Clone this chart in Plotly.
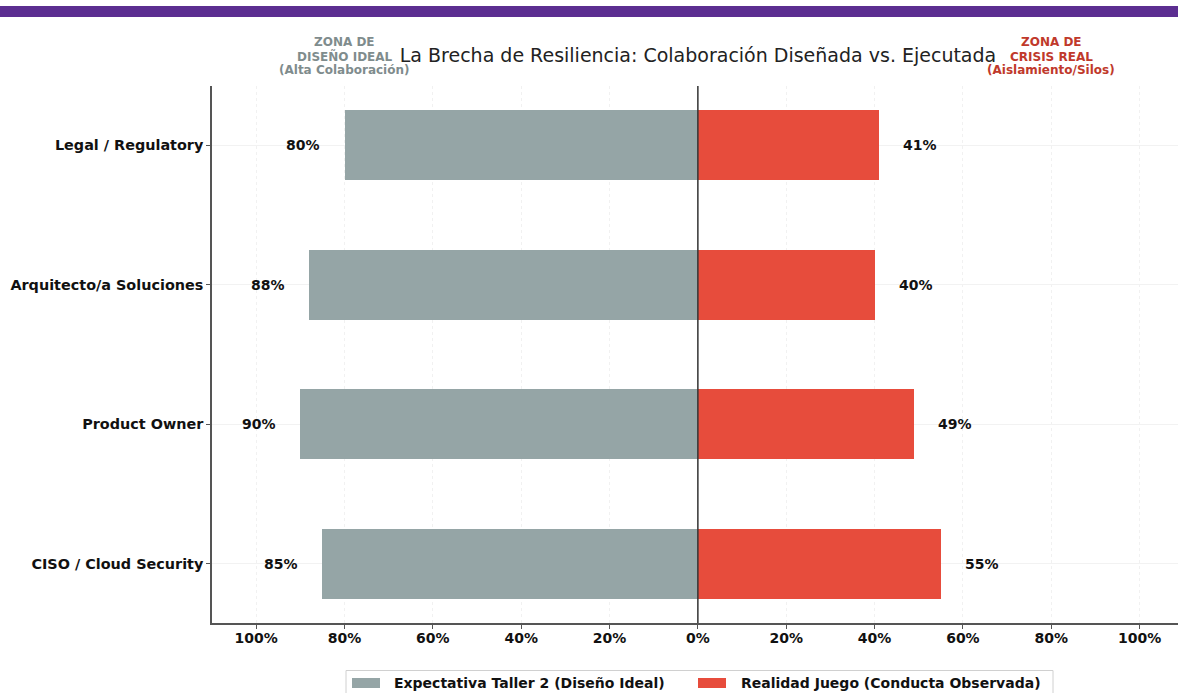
import plotly.graph_objects as go

# Roles (bottom to top) and collaboration percentages
roles = ["CISO / Cloud Security", "Product Owner", "Arquitecto/a Soluciones", "Legal / Regulatory"]
expectativa = [85, 90, 88, 80]   # Expectativa Taller 2 (Diseño Ideal)
realidad = [55, 49, 40, 41]      # Realidad Juego (Conducta Observada)

tick_values = [-100, -80, -60, -40, -20, 0, 20, 40, 60, 80, 100]
tick_labels = ["100%", "80%", "60%", "40%", "20%", "0%", "20%", "40%", "60%", "80%", "100%"]

series_names = ["Expectativa Taller 2 (Diseño Ideal)", "Realidad Juego (Conducta Observada)"]

GRAY = "#95a5a6"
RED = "#e74c3c"
FONT = "DejaVu Sans"

W, H = 1178, 693
ML, MR, MT, MB = 212, 0, 86, 70
plot_h = H - MT - MB
plot_w = W - ML - MR


def px_x(px):
    """Horizontal pixel position -> paper coordinate."""
    return (px - ML) / plot_w


def px_y(py):
    """Vertical pixel position (from top) -> paper coordinate."""
    return (H - MB - py) / plot_h


ypos = list(range(len(roles)))

fig = go.Figure()
fig.add_trace(go.Bar(
    y=ypos, x=[-v for v in expectativa], orientation="h", width=0.5,
    marker=dict(color=GRAY, line=dict(width=0)),
    name=series_names[0], hoverinfo="skip",
))
fig.add_trace(go.Bar(
    y=ypos, x=realidad, orientation="h", width=0.5,
    marker=dict(color=RED, line=dict(width=0)),
    name=series_names[1], hoverinfo="skip",
))

label_font = dict(family=FONT, size=14, color="#111")
annotations = []
for i, (e, r) in enumerate(zip(expectativa, realidad)):
    annotations.append(dict(x=-(e + 5), y=i, xref="x", yref="y", text=f"<b>{e}%</b>",
                            showarrow=False, xanchor="right", yanchor="middle", font=label_font))
    annotations.append(dict(x=r + 5, y=i, xref="x", yref="y", text=f"<b>{r}%</b>",
                            showarrow=False, xanchor="left", yanchor="middle", font=label_font))

# Zone headers above the plot, one line at a time
headers = [
    (-80, "#7f8c8d", ["ZONA DE", "DISEÑO IDEAL", "(Alta Colaboración)"]),
    (80, "#c0392b", ["ZONA DE", "CRISIS REAL", "(Aislamiento/Silos)"]),
]
for xc, col, lines in headers:
    for line, py in zip(lines, [42.5, 56.5, 70.5]):
        annotations.append(dict(x=xc, y=px_y(py), xref="x", yref="paper", text=f"<b>{line}</b>",
                                showarrow=False, xanchor="center", yanchor="middle",
                                font=dict(family=FONT, size=12, color=col)))

# Legend drawn at the bottom, partially running off the page
legend_items = [
    (352, 392, GRAY, series_names[0]),
    (698, 739, RED, series_names[1]),
]
shapes = [
    # center divider
    dict(type="line", xref="x", yref="paper", x0=0, x1=0, y0=0, y1=1,
         line=dict(color="#333333", width=1.5), layer="above"),
    # purple header band
    dict(type="rect", xref="paper", yref="paper",
         x0=px_x(-20), x1=px_x(W + 20), y0=px_y(17), y1=px_y(6),
         fillcolor="#5c2e91", line=dict(width=0), layer="above"),
    # legend frame
    dict(type="rect", xref="paper", yref="paper",
         x0=px_x(346), x1=px_x(1053), y0=px_y(705), y1=px_y(670.5),
         fillcolor="white", line=dict(color="#d0d0d0", width=1), layer="above"),
]
for patch_x, text_x, col, name in legend_items:
    shapes.append(dict(type="rect", xref="paper", yref="paper",
                       x0=px_x(patch_x), x1=px_x(patch_x + 28), y0=px_y(688), y1=px_y(678),
                       fillcolor=col, line=dict(width=0), layer="above"))
    annotations.append(dict(x=px_x(text_x), y=px_y(683), xref="paper", yref="paper",
                            text=f"<b>{name}</b>", showarrow=False,
                            xanchor="left", yanchor="middle", font=label_font))

fig.update_layout(
    width=W, height=H,
    margin=dict(l=ML, r=MR, t=MT, b=MB, autoexpand=False),
    paper_bgcolor="white", plot_bgcolor="white",
    barmode="overlay", bargap=0,
    title=dict(text="La Brecha de Resiliencia: Colaboración Diseñada vs. Ejecutada",
               x=px_x(698), xref="paper", xanchor="center",
               y=1 - 55 / H, yref="container", yanchor="middle",
               font=dict(family=FONT, size=19, color="#222")),
    xaxis=dict(range=[-110, 108.7], tickvals=tick_values,
               ticktext=[f"<b>{t}</b>" for t in tick_labels],
               tickfont=dict(family=FONT, size=14, color="#111"),
               showgrid=True, gridcolor="#f1f1f1", griddash="dot", gridwidth=1,
               zeroline=False, showline=True, linecolor="#555", linewidth=1.5,
               ticks="outside", ticklen=4, tickcolor="#555", fixedrange=True,
               ticklabelstandoff=-3, automargin=False),
    yaxis=dict(range=[-0.425, 3.425], tickvals=ypos,
               ticktext=[f"<b>{r}</b>" for r in roles],
               tickfont=dict(family=FONT, size=14.4, color="#111"),
               showgrid=True, gridcolor="#f2f2f2", gridwidth=1,
               zeroline=False, showline=True, linecolor="#555", linewidth=1.5,
               ticks="outside", ticklen=4, tickcolor="#555", fixedrange=True,
               automargin=False),
    annotations=annotations,
    shapes=shapes,
    showlegend=False,
)

fig.write_html("out.html")
